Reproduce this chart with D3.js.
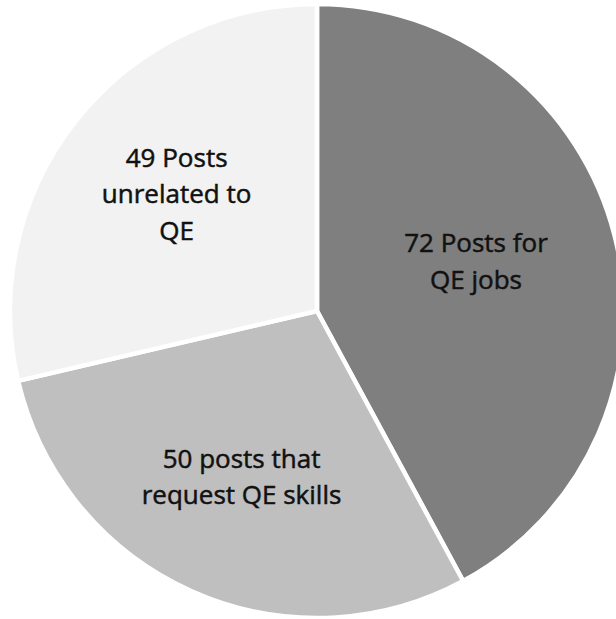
<!DOCTYPE html>
<html lang="en">

<head>
    <meta charset="UTF-8">
    <title>QE Posts</title>
    <script src="https://cdn.jsdelivr.net/npm/d3@7"></script>
    <style>
        html, body {
            margin: 0;
            padding: 0;
            background-color: #ffffff;
            overflow: hidden;
        }
    </style>
</head>

<body>
    <div id="chart"></div>

    <script>
        // slice data, clockwise from 12 o'clock
        const counts = [72, 50, 49];
        const labels = [
            ["72 Posts for", "QE jobs"],
            ["50 posts that", "request QE skills"],
            ["49 Posts", "unrelated to", "QE"]
        ];
        const fills = ["#7f7f7f", "#bfbfbf", "#f2f2f2"];

        const width = 616, height = 619;
        const cx = 317, cy = 311, radius = 307;
        const lineHeight = 36.5;
        // label placement along each slice's mid-angle
        const labelRadius = [164, 184, 183];
        const labelShift = [-9, -2, -3];

        const svg = d3.select("#chart").append("svg")
            .attr("width", width)
            .attr("height", height);

        const g = svg.append("g")
            .attr("transform", `translate(${cx},${cy})`);

        const slices = counts.map((v, i) => ({ value: v, lines: labels[i], fill: fills[i], i }));

        const pie = d3.pie().value(d => d.value).sort(null);
        const arc = d3.arc().innerRadius(0).outerRadius(radius);

        const arcs = pie(slices);

        g.selectAll("path")
            .data(arcs)
            .join("path")
            .attr("d", arc)
            .attr("fill", d => d.data.fill)
            .attr("stroke", "#ffffff")
            .attr("stroke-width", 4.5)
            .attr("stroke-linejoin", "miter");

        const text = g.selectAll("text")
            .data(arcs)
            .join("text")
            .attr("transform", d => {
                const r = labelRadius[d.data.i];
                const [x, y] = d3.arc().innerRadius(r).outerRadius(r).centroid(d);
                return `translate(${x + (d.data.i === 2 ? 3 : 0)},${y + labelShift[d.data.i]})`;
            })
            .attr("text-anchor", "middle")
            .style("font-family", "'Open Sans', sans-serif")
            .style("font-size", "26px")
            .style("fill", "#111111")
            .style("stroke", "#111111")
            .style("stroke-width", "0.5px");

        text.selectAll("tspan")
            .data(d => d.data.lines.map((t, k, a) => ({ t, off: (k - (a.length - 1) / 2) * lineHeight + 9 })))
            .join("tspan")
            .attr("x", 0)
            .attr("y", d => d.off)
            .text(d => d.t);
    </script>
</body>

</html>
